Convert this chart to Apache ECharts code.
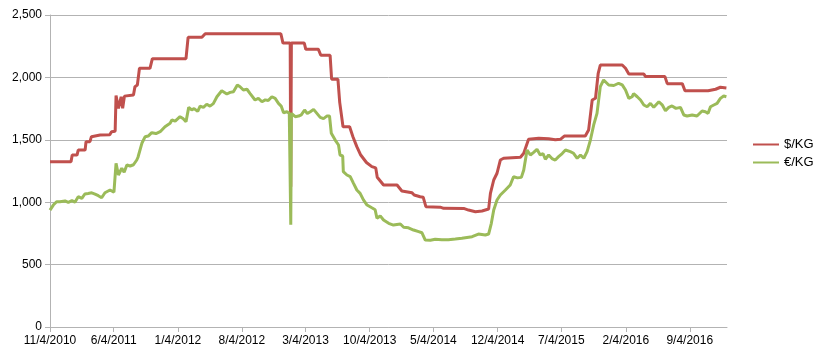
<!DOCTYPE html>
<html>
<head>
<meta charset="utf-8">
<script src="https://cdn.jsdelivr.net/npm/echarts@6/dist/echarts.min.js"></script>
<style>
html,body{margin:0;padding:0;background:#fff;}
#chart{width:814px;height:356px;}
</style>
</head>
<body>
<div id="chart"></div>
<script>
// ---- data ----
const seriesNames = ['$/KG', '€/KG'];
const xStart = '2010-11-04';
const xEnd = '2017-01-06';
const tickLabels = ['11/4/2010','6/4/2011','1/4/2012','8/4/2012','3/4/2013','10/4/2013','5/4/2014','12/4/2014','7/4/2015','2/4/2016','9/4/2016'];
const yMin = 0, yMax = 2500, yStep = 500;

const usdDates = ['2010-11-04','2011-01-13','2011-01-17','2011-02-02','2011-02-06','2011-03-01','2011-03-04','2011-03-17','2011-03-22','2011-04-20','2011-05-22','2011-05-28','2011-06-09','2011-06-12','2011-06-20','2011-06-29','2011-07-04','2011-07-10','2011-08-09','2011-08-14','2011-08-22','2011-08-29','2011-10-03','2011-10-11','2012-01-31','2012-02-07','2012-03-24','2012-04-04','2012-12-12','2012-12-19','2013-01-12','2013-01-14','2013-01-16','2013-02-28','2013-03-05','2013-04-16','2013-04-24','2013-05-25','2013-05-30','2013-06-20','2013-06-26','2013-07-07','2013-07-29','2013-08-09','2013-08-22','2013-09-04','2013-09-23','2013-10-11','2013-10-24','2013-10-29','2013-11-19','2014-01-03','2014-01-19','2014-02-22','2014-03-01','2014-03-21','2014-03-31','2014-04-09','2014-05-27','2014-06-07','2014-08-13','2014-08-29','2014-09-21','2014-10-13','2014-11-04','2014-11-10','2014-11-21','2014-12-02','2014-12-13','2014-12-24','2015-02-18','2015-03-01','2015-03-17','2015-04-20','2015-05-23','2015-06-14','2015-07-01','2015-07-14','2015-09-22','2015-10-03','2015-10-15','2015-10-26','2015-11-04','2015-11-11','2016-01-23','2016-02-03','2016-02-14','2016-04-04','2016-04-09','2016-06-13','2016-06-21','2016-08-10','2016-08-19','2016-11-04','2016-11-29','2016-12-15','2017-01-04'];
const usdValues = [1325,1325,1378,1378,1418,1418,1485,1485,1525,1538,1540,1565,1568,1855,1752,1845,1752,1850,1859,1926,1939,2073,2073,2150,2150,2321,2321,2350,2350,2275,2275,1124,2275,2275,2225,2225,2177,2177,1986,1986,1800,1605,1605,1525,1445,1378,1318,1285,1275,1200,1138,1138,1090,1075,1058,1044,1040,964,960,951,950,937,924,930,945,1071,1178,1232,1338,1352,1360,1392,1504,1512,1508,1500,1504,1530,1530,1578,1819,1833,2033,2099,2099,2073,2027,2027,2008,2008,1950,1950,1893,1893,1905,1921,1915];

const eurDates = ['2010-11-04','2010-11-15','2010-11-26','2010-12-07','2010-12-24','2011-01-04','2011-01-16','2011-01-26','2011-02-06','2011-02-18','2011-02-28','2011-03-11','2011-03-23','2011-04-03','2011-04-14','2011-04-25','2011-05-06','2011-05-23','2011-06-05','2011-06-12','2011-06-20','2011-07-01','2011-07-09','2011-07-18','2011-07-29','2011-08-09','2011-08-20','2011-08-24','2011-09-06','2011-09-17','2011-09-27','2011-10-09','2011-10-23','2011-11-06','2011-11-22','2011-12-09','2011-12-15','2011-12-26','2012-01-11','2012-01-21','2012-01-31','2012-02-09','2012-02-19','2012-02-27','2012-03-10','2012-03-18','2012-03-29','2012-04-09','2012-04-20','2012-05-01','2012-05-13','2012-05-29','2012-06-15','2012-06-26','2012-07-07','2012-07-20','2012-07-29','2012-08-09','2012-08-21','2012-08-31','2012-09-17','2012-09-28','2012-10-10','2012-10-21','2012-10-31','2012-11-12','2012-11-23','2012-12-04','2012-12-13','2012-12-21','2013-01-01','2013-01-09','2013-01-12','2013-01-14','2013-01-16','2013-01-29','2013-02-09','2013-02-18','2013-03-01','2013-03-10','2013-03-20','2013-03-31','2013-04-11','2013-04-22','2013-05-03','2013-05-14','2013-05-23','2013-05-29','2013-06-11','2013-06-22','2013-06-27','2013-07-06','2013-07-08','2013-07-20','2013-07-31','2013-08-11','2013-08-22','2013-09-02','2013-09-13','2013-09-25','2013-10-11','2013-10-22','2013-10-28','2013-11-08','2013-11-19','2013-12-06','2013-12-22','2014-01-14','2014-01-25','2014-02-10','2014-02-27','2014-03-16','2014-03-27','2014-04-07','2014-04-24','2014-05-10','2014-06-01','2014-06-23','2014-07-16','2014-08-07','2014-09-10','2014-10-01','2014-10-24','2014-11-04','2014-11-13','2014-11-21','2014-12-02','2014-12-13','2014-12-30','2015-01-15','2015-01-26','2015-02-08','2015-02-21','2015-03-01','2015-03-12','2015-03-23','2015-04-03','2015-04-14','2015-04-25','2015-05-04','2015-05-12','2015-05-23','2015-06-03','2015-06-14','2015-06-25','2015-07-07','2015-07-18','2015-08-03','2015-08-14','2015-08-26','2015-09-06','2015-09-17','2015-09-28','2015-10-09','2015-10-20','2015-10-31','2015-11-11','2015-11-22','2015-11-28','2015-12-09','2015-12-26','2016-01-11','2016-01-23','2016-02-03','2016-02-14','2016-02-25','2016-03-01','2016-03-13','2016-03-24','2016-04-04','2016-04-15','2016-04-26','2016-05-07','2016-05-24','2016-06-04','2016-06-15','2016-06-26','2016-07-07','2016-07-20','2016-08-04','2016-08-15','2016-08-26','2016-09-12','2016-09-28','2016-10-15','2016-10-26','2016-11-04','2016-11-12','2016-11-23','2016-12-04','2016-12-15','2016-12-26','2017-01-04'];
const eurValues = [937,977,1004,1004,1010,998,1012,1000,1044,1030,1066,1070,1075,1065,1052,1036,1076,1098,1080,1312,1218,1272,1240,1298,1290,1300,1338,1360,1472,1525,1530,1557,1550,1565,1605,1632,1659,1650,1685,1670,1645,1760,1740,1750,1728,1770,1760,1785,1770,1790,1845,1893,1867,1880,1885,1939,1925,1899,1905,1872,1819,1832,1805,1820,1815,1845,1832,1792,1770,1717,1725,1712,1712,820,1712,1685,1690,1700,1739,1710,1725,1744,1712,1680,1670,1690,1691,1552,1498,1458,1378,1370,1245,1218,1205,1151,1098,1071,1018,977,955,940,871,890,857,831,817,825,799,795,777,764,755,697,695,703,700,700,705,711,724,745,737,745,831,937,1018,1058,1098,1138,1204,1195,1199,1258,1418,1378,1400,1424,1378,1390,1344,1378,1350,1338,1365,1390,1418,1405,1392,1352,1378,1352,1405,1498,1619,1712,1926,1979,1993,1939,1935,1953,1940,1899,1832,1845,1870,1845,1819,1779,1765,1792,1760,1805,1780,1733,1760,1771,1752,1760,1699,1691,1699,1691,1731,1725,1712,1765,1779,1792,1832,1851,1845];

// ---- helpers ----
function isoTs(s) { const p = s.split('-'); return new Date(+p[0], +p[1] - 1, +p[2]).getTime(); }
function mdyTs(s) { const p = s.split('/'); return new Date(+p[2], +p[0] - 1, +p[1]).getTime(); }
const tickTs = tickLabels.map(mdyTs);
const tickMap = {};
tickTs.forEach((t, i) => { tickMap[t] = tickLabels[i]; });
function zip(dates, vals) { return dates.map((d, i) => [isoTs(d), vals[i]]); }

const FONT = 'Liberation Sans, Arial, sans-serif';
const GRID_COLOR = '#b3b3b3';

const chart = echarts.init(document.getElementById('chart'), null, { renderer: 'canvas' });
chart.setOption({
  animation: false,
  backgroundColor: '#ffffff',
  textStyle: { fontFamily: FONT },
  grid: { left: 50, right: 87, top: 15, bottom: 29, containLabel: false },
  legend: {
    orient: 'vertical',
    left: 747, top: 133,
    itemWidth: 26, itemHeight: 14, itemGap: 5, itemTextGap: 5,
    itemStyle: { opacity: 0 },
    textStyle: { fontSize: 13, color: '#000', fontFamily: FONT },
    data: seriesNames
  },
  xAxis: {
    type: 'value',
    min: isoTs(xStart), max: isoTs(xEnd),
    axisLine: { show: true, onZero: false, lineStyle: { color: GRID_COLOR, width: 1 } },
    axisTick: { show: true, customValues: tickTs, length: 5, lineStyle: { color: GRID_COLOR } },
    axisLabel: {
      customValues: tickTs,
      formatter: v => tickMap[v] || '',
      fontSize: 12, color: '#000', margin: 8, fontFamily: FONT
    },
    splitLine: { show: false },
    minorTick: { show: false }
  },
  yAxis: {
    type: 'value',
    min: yMin, max: yMax, interval: yStep,
    axisLine: { show: true, lineStyle: { color: GRID_COLOR, width: 1 } },
    axisTick: { show: true, length: 5, lineStyle: { color: GRID_COLOR } },
    axisLabel: {
      fontSize: 12, color: '#000', margin: 8, fontFamily: FONT,
      formatter: v => v.toLocaleString('en-US')
    },
    splitLine: { show: true, lineStyle: { color: GRID_COLOR, width: 1 } }
  },
  series: [
    {
      name: seriesNames[0], type: 'line', symbol: 'none', showSymbol: false,
      color: '#c0504d',
      lineStyle: { width: 3, color: '#c0504d' },
      data: zip(usdDates, usdValues)
    },
    {
      name: seriesNames[1], type: 'line', symbol: 'none', showSymbol: false,
      color: '#9bbb59',
      lineStyle: { width: 3, color: '#9bbb59' },
      data: zip(eurDates, eurValues)
    }
  ]
});
</script>
</body>
</html>
